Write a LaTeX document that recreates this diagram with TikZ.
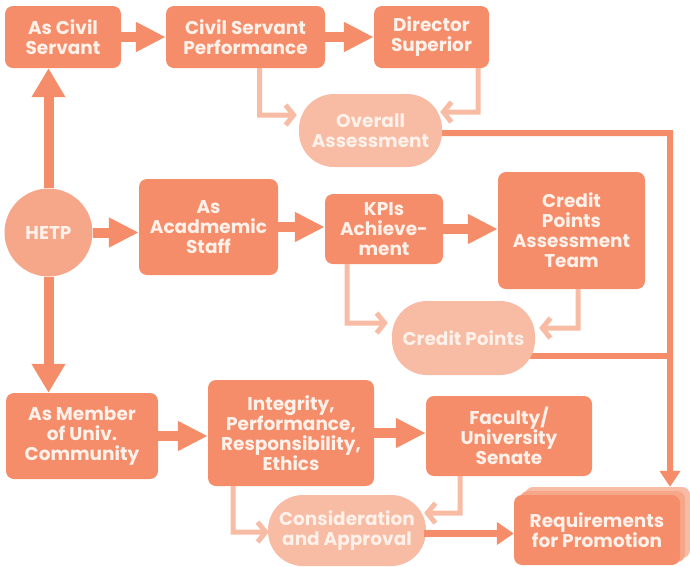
\documentclass[tikz,border=0pt]{standalone}
\usepackage{fontspec}
\setmainfont{Poppins}[BoldFont={Poppins Bold}]
\usetikzlibrary{arrows.meta,calc}
\definecolor{dk}{HTML}{F58D6A}
\definecolor{lt}{HTML}{F8BBA4}
\definecolor{md}{HTML}{F6A689}
\definecolor{tx}{HTML}{FDF1EA}
\pgfdeclarelayer{bg}
\pgfsetlayers{bg,main}
\begin{document}
\begin{tikzpicture}[x=1pt,y=-1pt,
  txt/.style={text=tx, font=\bfseries\fontsize{18.5}{20}\selectfont, align=center, inner sep=0pt},
  box/.style={txt, fill=dk, rounded corners=8pt},
  pill/.style={txt, fill=lt, rounded corners=35pt},
  bigarrow/.style={draw=dk, line width=10pt, -{Triangle[length=30pt,width=28pt]}},
  varrow/.style={draw=dk, line width=10pt, -{Triangle[length=29pt,width=32pt]}},
  medline/.style={draw=dk, line width=6pt},
  medarrow/.style={draw=dk, line width=6pt, -{Triangle[length=16pt,width=20pt]}},
  smallarrow/.style={draw=dk, line width=7pt, -{Triangle[length=17pt,width=22pt]}},
  ltarrow/.style={draw=lt, line width=5pt, -{Straight Barb[length=8pt,width=20pt]}}
]
\useasboundingbox (0,0) rectangle (690,566);
% nodes
\node[box, minimum width=116, minimum height=62] (acs) at (63,37) {As Civil\\Servant};
\node[box, minimum width=159, minimum height=62] (csp) at (245.5,37) {Civil Servant\\Performance};
\node[box, minimum width=115, minimum height=62] (dir) at (431.5,37) {Director\\Superior};
\node[pill, minimum width=143, minimum height=73] (oa) at (370.5,130.5) {Overall\\Assessment};
\node[txt, circle, fill=md, minimum size=88] (hetp) at (48.5,232.5) {HETP};
\node[box, minimum width=139, minimum height=96] (aas) at (208.5,227) {As\\Acadmemic\\Staff};
\node[box, minimum width=118, minimum height=70] (kpi) at (384,229) {KPIs\\Achieve-\\ment};
\node[box, minimum width=147, minimum height=117] (cpat) at (571.5,230.5) {Credit\\Points\\Assessment\\Team};
\node[pill, minimum width=143, minimum height=74] (cp) at (463.5,338) {Credit Points};
\node[box, minimum width=152, minimum height=86] (mem) at (82,436) {As Member\\of Univ.\\Community};
\node[box, minimum width=166, minimum height=106] (int) at (291,433) {Integrity,\\Performance,\\Responsibility,\\Ethics};
\node[box, minimum width=166, minimum height=80] (fac) at (509,436) {Faculty/\\University\\Senate};
\node[pill, minimum width=158, minimum height=71] (ca) at (347,530.5) {Consideration\\and Approval};
\fill[lt, rounded corners=8pt] (525,487) rectangle (690,558);
\fill[md, rounded corners=8pt] (520,491) rectangle (685,562);
\node[box, minimum width=166, minimum height=70] (req) at (597,530) {Requirements\\for Promotion};
% thick arrows
\draw[bigarrow] (acs.east) -- (csp.west);
\draw[bigarrow] (csp.east) -- (dir.west);
\draw[bigarrow] (hetp.east) -- (aas.west |- hetp.east);
\draw[bigarrow] (aas.east) -- (kpi.west |- aas.east);
\draw[bigarrow] (kpi.east) -- (cpat.west |- kpi.east);
\draw[bigarrow] (mem.east) -- (int.west |- mem.east);
\draw[bigarrow] (int.east) -- (fac.west |- int.east);
\draw[varrow] (hetp.north) -- (acs.south -| hetp.north);
\draw[varrow] (hetp.south) -- (mem.north -| hetp.south);
\draw[smallarrow] ($(ca.east)+(-2,3)$) -- ($(req.west)+(0,3.5)$);
% right collector
\coordinate (j1) at ($(oa.east)+(228,2.5)$);
\coordinate (j2) at ($(req.north)+(73,-8)$);
\begin{pgfonlayer}{bg}
\draw[medarrow] ($(oa.east)+(-10,2.5)$) -- (j1) -- (j2);
\draw[medline] ($(cp.east)+(-20,18)$) -- ($(j1 |- cp.east)+(0,18)$);
\end{pgfonlayer}
% light connectors
\draw[ltarrow] ($(csp.south)+(14,0)$) -- ++(0,47) -- ($(oa.west)+(-2,-15.5)$);
\draw[ltarrow] ($(dir.south)+(46.5,0)$) -- ++(0,44) -- ($(oa.east)+(-2,-18.5)$);
\draw[ltarrow] ($(kpi.south)+(-37,0)$) -- ++(0,59) -- ($(cp.west)+(-4,-15)$);
\draw[ltarrow] ($(cpat.south)+(6.5,0)$) -- ++(0,39) -- ($(cp.east)+(4,-10)$);
\draw[ltarrow] ($(int.south)+(-58,0)$) -- ++(0,46) -- ($(ca.west)+(1,1.5)$);
\draw[ltarrow] ($(fac.south)+(-49,0)$) -- ++(0,37) -- ($(ca.east)+(-2,-17.5)$);
\end{tikzpicture}
\end{document}
